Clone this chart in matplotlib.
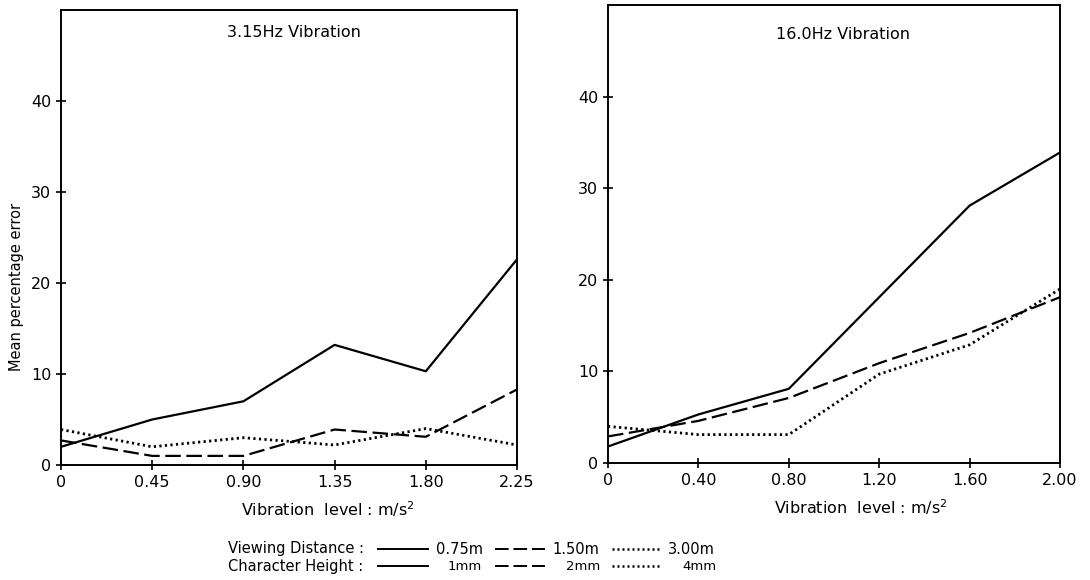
import matplotlib.pyplot as plt
from matplotlib.lines import Line2D

# vibration levels (m/s^2) for each frequency
levels_315 = [0, 0.45, 0.90, 1.35, 1.80, 2.25]
levels_160 = [0, 0.40, 0.80, 1.20, 1.60, 2.00]

# mean percentage error, 3.15 Hz
err_315_solid = [2.0, 5.0, 7.0, 13.2, 10.3, 22.6]
err_315_dash = [2.7, 1.0, 1.0, 3.9, 3.1, 8.3]
err_315_dot = [3.9, 2.0, 3.0, 2.2, 4.0, 2.2]

# mean percentage error, 16.0 Hz
err_160_solid = [1.8, 5.3, 8.1, 18.1, 28.1, 33.9]
err_160_dash = [2.9, 4.6, 7.1, 10.9, 14.2, 18.1]
err_160_dot = [4.0, 3.1, 3.1, 9.7, 12.9, 19.0]

xticks_315 = ['0', '0.45', '0.90', '1.35', '1.80', '2.25']
xticks_160 = ['0', '0.40', '0.80', '1.20', '1.60', '2.00']

plt.rcParams['font.family'] = 'DejaVu Sans'

W, H = 1090, 580

def px_box(x0, x1, ytop, ybot):
    return [x0 / W, 1 - ybot / H, (x1 - x0) / W, (ybot - ytop) / H]

fig = plt.figure(figsize=(10.9, 5.8), dpi=100, facecolor='white')
ax1 = fig.add_axes(px_box(61, 517, 10, 465))
ax2 = fig.add_axes(px_box(608, 1060, 5, 463))

dash_style = (0, (7, 2.5))
dot_style = (0, (0.8, 1.2))

def draw_panel(ax, x, solid, dash, dot, labels, title, tx, ty, lx):
    ax.plot(x, solid, color='k', lw=1.6)
    ax.plot(x, dash, color='k', lw=1.6, linestyle=dash_style)
    ax.plot(x, dot, color='k', lw=2.0, linestyle=dot_style)
    ax.set_xlim(x[0], x[-1])
    ax.set_ylim(0, 50)
    ax.set_xticks(x)
    ax.set_xticklabels(labels)
    ax.set_yticks([0, 10, 20, 30, 40])
    ax.tick_params(direction='inout', length=7, width=1.2, labelsize=11.5)
    for s in ax.spines.values():
        s.set_linewidth(1.4)
    ax.text(tx, ty, title, transform=ax.transAxes, ha='center', va='center', fontsize=11.5)
    ax.set_xlabel('Vibration  level : m/s$^2$', fontsize=11.5)
    ax.xaxis.set_label_coords(lx, -0.075)

draw_panel(ax1, levels_315, err_315_solid, err_315_dash, err_315_dot,
           xticks_315, '3.15Hz Vibration', 0.51, 0.95, 0.585)
draw_panel(ax2, levels_160, err_160_solid, err_160_dash, err_160_dot,
           xticks_160, '16.0Hz Vibration', 0.52, 0.935, 0.56)

fig.text(17 / W, 1 - 287 / H, 'Mean percentage error', rotation=90,
         fontsize=10.5, ha='center', va='center')

# key for line styles below the panels
row_y = [1 - 549 / H, 1 - 566 / H]
fig.text(228 / W, row_y[0], 'Viewing Distance :', fontsize=10.5, va='center')
fig.text(228 / W, row_y[1], 'Character Height :', fontsize=10.5, va='center')

key_styles = [('-', 1.4), (dash_style, 1.4), (dot_style, 1.8)]
seg_x = [(378, 428), (495, 545), (612, 662)]
labels_dist = ['0.75m', '1.50m', '3.00m']
labels_height = ['1mm', '2mm', '4mm']
dist_x = [436, 552, 668]
height_x = [448, 566, 682]

for (ls, lw), (x0, x1), ld, lh, dx, hx in zip(key_styles, seg_x, labels_dist,
                                               labels_height, dist_x, height_x):
    for yy in row_y:
        fig.add_artist(Line2D([x0 / W, x1 / W], [yy, yy], color='k',
                              lw=lw, linestyle=ls))
    fig.text(dx / W, row_y[0], ld, fontsize=10.5, va='center')
    fig.text(hx / W, row_y[1], lh, fontsize=9.5, va='center')

plt.savefig('out.png', dpi=100, facecolor='white')
